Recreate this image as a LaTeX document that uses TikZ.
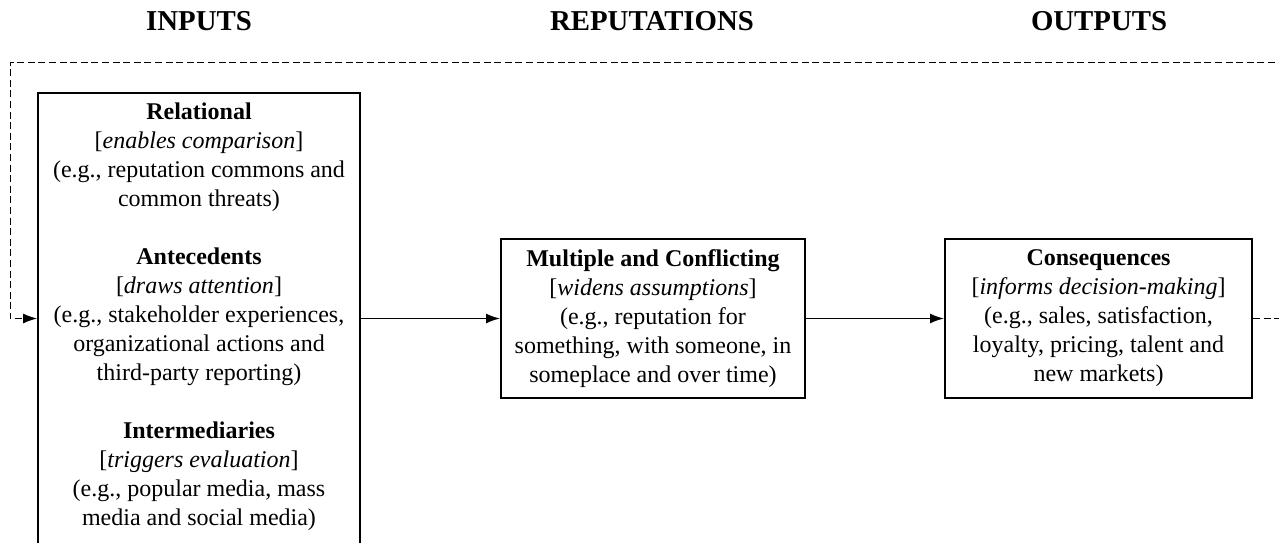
\documentclass[tikz,border=0pt,12pt]{standalone}
\usepackage{fontspec}
\setmainfont{Liberation Serif}
\usetikzlibrary{arrows.meta}

\begin{document}
\begin{tikzpicture}[x=0.5pt, y=-0.5pt,
    header/.style={font=\large\bfseries},
    stage/.style={draw, line width=1pt, align=center, inner xsep=2pt, inner ysep=2pt},
    flow/.style={line width=0.7pt, -{Latex[length=7pt,width=5pt]}},
    feedback/.style={line width=0.5pt, dash pattern=on 3.5pt off 1.8pt, -{Latex[length=7pt,width=5pt]}}]
        \useasboundingbox (0,0) rectangle (1279,542);

        \node (hin) [header] at (199,21) {INPUTS};
        \node (hrep) [header] at (652,21) {REPUTATIONS};
        \node (hout) [header] at (1099,21) {OUTPUTS};

        \node (in) [stage, anchor=north, minimum width=161pt, inner ysep=5pt] at (199,92) {%
            \textbf{Relational}\\ {[}\textit{enables comparison}{]}\\
            (e.g., reputation commons and\\ common threats)\\[14.5pt]
            \textbf{Antecedents}\\ {[}\textit{draws attention}{]}\\
            (e.g., stakeholder experiences,\\ organizational actions and\\
            third-party reporting)\\[14.5pt]
            \textbf{Intermediaries}\\ {[}\textit{triggers evaluation}{]}\\
            (e.g., popular media, mass\\
            media and social media)\rule[-20pt]{0pt}{20pt}};

        \node (rep) [stage, minimum width=152pt, minimum height=79.5pt] at (653,318.5) {%
            \textbf{Multiple and Conflicting}\\ {[}\textit{widens assumptions}{]}\\
            (e.g., reputation for\\ something, with someone, in\\
            someplace and over time)};

        \node (cons) [stage, minimum width=153.5pt, minimum height=79.5pt] at (1098.5,318.5) {%
            \textbf{Consequences}\\ {[}\textit{informs decision-making}{]}\\
            (e.g., sales, satisfaction,\\ loyalty, pricing, talent and\\
            new markets)};

        \coordinate (fbR) at (1300,62);
        \coordinate (fbL) at (10,62);

        \path[flow]
        (in.east |- rep.west) edge (rep.west)
        (rep) edge (cons)
        ;
        \draw[feedback] (cons.east) -| (fbR) -- (fbL) |- (in.west |- rep.west);
      \end{tikzpicture}
\end{document}
